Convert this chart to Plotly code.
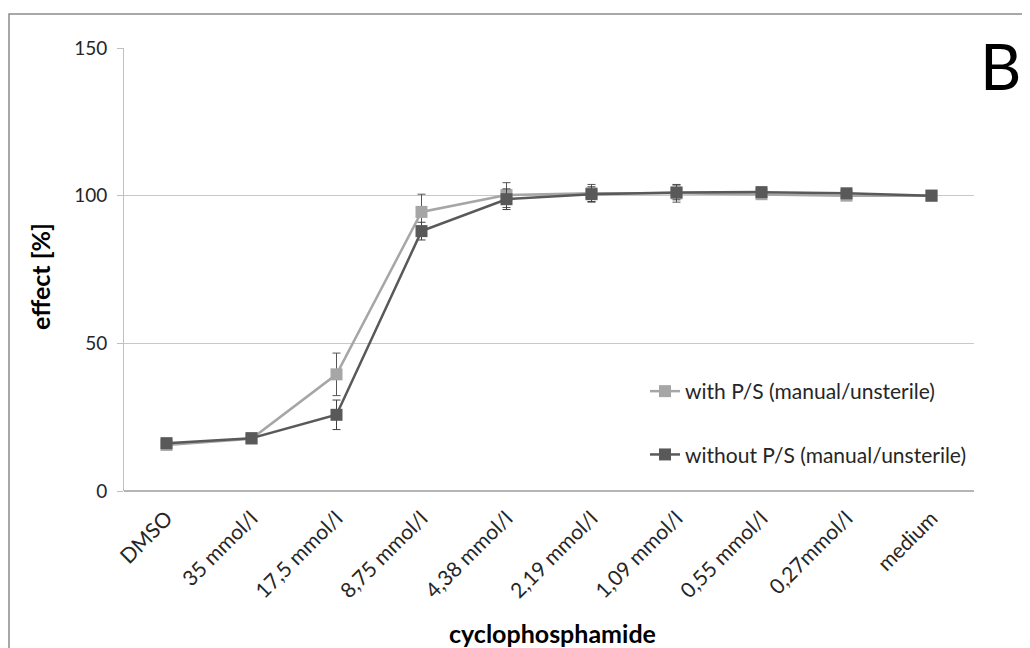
import plotly.graph_objects as go

categories = ["DMSO", "35 mmol/l", "17,5 mmol/l", "8,75 mmol/l", "4,38 mmol/l",
              "2,19 mmol/l", "1,09 mmol/l", "0,55 mmol/l", "0,27mmol/l", "medium"]
with_ps = [15.6, 17.7, 39.5, 94.5, 100.2, 100.8, 100.8, 100.5, 100.0, 100.0]
with_ps_err = [0.5, 0.5, 7.2, 6.0, 4.2, 3.0, 3.0, 0.5, 0.5, 0.3]
without_ps = [16.2, 17.9, 25.8, 88.0, 98.8, 100.5, 101.1, 101.2, 100.8, 100.0]
without_ps_err = [0.5, 0.5, 5.0, 3.0, 3.5, 2.5, 2.5, 0.5, 0.5, 0.3]

# page is rendered with an 8px body offset; figure coords = page coords - 8
L, R, T, B = 116, 64, 40, 165
W, H = 1030, 648
pw, ph = W - L - R, H - T - B
FONT = "Lato, Calibri, sans-serif"

fig = go.Figure()
fig.add_trace(go.Scatter(
    x=categories, y=with_ps, name="with P/S (manual/unsterile)",
    mode="lines+markers", legendgroup="a",
    line=dict(color="#A6A6A6", width=2.5),
    marker=dict(symbol="square", size=12, color="#A6A6A6"),
    error_y=dict(type="data", array=with_ps_err, color="#555555", thickness=1, width=4),
))
fig.add_trace(go.Scatter(
    x=categories, y=without_ps, name="without P/S (manual/unsterile)",
    mode="lines+markers", legendgroup="b",
    line=dict(color="#595959", width=2.5),
    marker=dict(symbol="square", size=12, color="#595959"),
    error_y=dict(type="data", array=without_ps_err, color="#404040", thickness=1, width=4),
))

fig.update_layout(
    width=W, height=H,
    margin=dict(l=L, r=R, t=T, b=B),
    paper_bgcolor="white", plot_bgcolor="white",
    font=dict(family=FONT, color="#262626", size=19),
    legend=dict(x=(637 - L) / pw, y=(483 - 363) / ph, xanchor="left", yanchor="top",
                font=dict(size=21), bgcolor="rgba(0,0,0,0)",
                traceorder="grouped", tracegroupgap=33, itemwidth=30),
    xaxis=dict(type="category", range=[-0.5, 9.5], tickangle=-45,
               showline=False, showgrid=False, ticks="",
               ticklabelstandoff=10,
               tickfont=dict(size=21)),
    yaxis=dict(range=[0, 150], tickvals=[0, 50, 100, 150], showgrid=True,
               gridcolor="#C8C8C8", gridwidth=1, showline=True, linecolor="#C0C0C0",
               linewidth=1, ticks="outside", ticklen=6, tickcolor="#C0C0C0",
               ticklabelstandoff=6,
               zeroline=True, zerolinecolor="#B5B5B5", zerolinewidth=1.5,
               tickfont=dict(size=19)),
    shapes=[dict(type="rect", xref="paper", yref="paper",
                 x0=(1 - L) / pw, x1=(1045 - L) / pw,
                 y0=-0.5, y1=1 + (T - 6) / ph,
                 line=dict(color="#8C8C8C", width=1.5), fillcolor="rgba(0,0,0,0)", layer="below")],
    annotations=[
        dict(text="B", xref="paper", yref="paper", xanchor="center", yanchor="middle",
             x=(992 - L) / pw, y=1 + (T - 58) / ph, showarrow=False,
             font=dict(size=64, color="#000000", family=FONT)),
        dict(text="<b>cyclophosphamide</b>", xref="paper", yref="paper",
             xanchor="center", yanchor="middle",
             x=(544 - L) / pw, y=(H - B - 625) / ph, showarrow=False,
             font=dict(size=25, color="#000000", family=FONT)),
        dict(text="<b>effect [%]</b>", xref="paper", yref="paper", textangle=-90,
             xanchor="center", yanchor="middle",
             x=(32 - L) / pw, y=(H - B - 269) / ph, showarrow=False,
             font=dict(size=25, color="#000000", family=FONT)),
    ],
)

fig.write_html("out.html")
